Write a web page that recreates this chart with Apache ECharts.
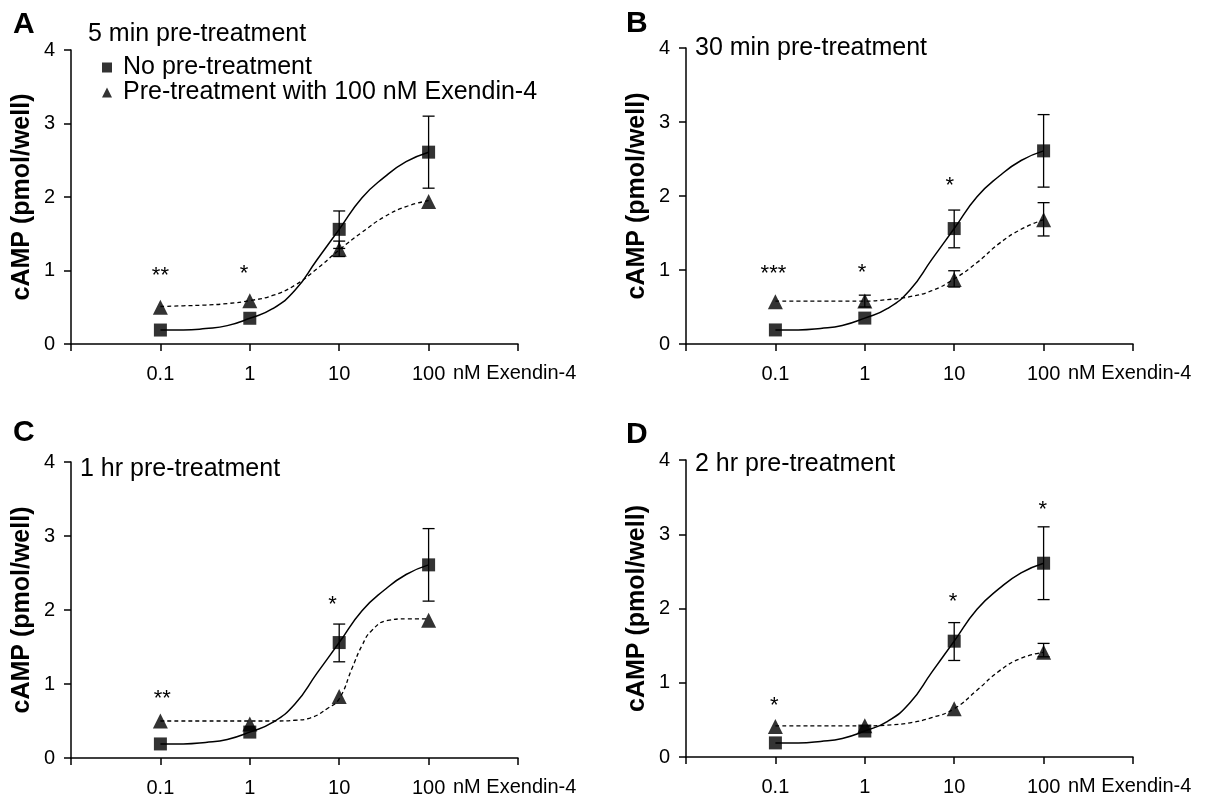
<!DOCTYPE html>
<html>
<head>
<meta charset="utf-8">
<script src="https://cdn.jsdelivr.net/npm/echarts@6/dist/echarts.min.js"></script>
<style>
html, body { margin: 0; background: #fff; }
#chart { width: 1208px; height: 798px; }
</style>
</head>
<body>
<div id="chart"></div>
<script>
// doses, nM Exendin-4
var doses = [0.1, 1, 10, 100];
var xTicks = ['0.1', '1', '10', '100'];

// no pre-treatment (same control set in all four panels), cAMP pmol/well
var ctrlMean = [0.19, 0.35, 1.56, 2.61];
var ctrlErr = [[10, 1.30, 1.81], [100, 2.12, 3.10]];

// fitted curves at quarter-decade doses
var fitDoses = [0.1, 0.18, 0.32, 0.56, 1, 1.8, 3.2, 5.6, 10, 18, 32, 56, 100];
var ctrlFit = [0.19, 0.19, 0.21, 0.25, 0.35, 0.48, 0.73, 1.14, 1.56, 1.99, 2.27, 2.48, 2.61];

// pre-treatment with 100 nM Exendin-4
var preMeanA = [0.50, 0.59, 1.29, 1.94];
var preMeanB = [0.57, 0.58, 0.87, 1.68];
var preMeanC = [0.50, 0.46, 0.83, 1.86];
var preMeanD = [0.41, 0.42, 0.65, 1.41];

var preErrA = [[10, 1.19, 1.40]];
var preErrB = [[1, 0.50, 0.66], [10, 0.77, 0.99], [100, 1.46, 1.91]];
var preErrC = [];
var preErrD = [[100, 1.35, 1.53]];

var preFitA = [0.51, 0.52, 0.53, 0.55, 0.59, 0.66, 0.8, 1.02, 1.28, 1.52, 1.73, 1.87, 1.95];
var preFitB = [0.58, 0.58, 0.58, 0.58, 0.58, 0.6, 0.64, 0.72, 0.88, 1.1, 1.36, 1.55, 1.68];
var preFitD = [0.42, 0.42, 0.42, 0.42, 0.42, 0.43, 0.46, 0.53, 0.65, 0.9, 1.16, 1.33, 1.41];
// panel C rises steeply, read at its own doses
var preFitDosesC = [0.1, 0.32, 1, 2, 3.2, 4.7, 7.6, 10, 14, 18, 23, 35, 56, 100];
var preFitC = [0.5, 0.5, 0.5, 0.5, 0.51, 0.54, 0.68, 0.8, 1.22, 1.52, 1.72, 1.86, 1.88, 1.88];

// significance marks [dose, cAMP level, text]
var starsA = [[0.1, 0.99, '**'], [0.86, 1.02, '*']];
var starsB = [[0.095, 1.02, '***'], [0.93, 1.03, '*'], [8.9, 2.2, '*']];
var starsC = [[0.105, 0.87, '**'], [8.4, 2.14, '*']];
var starsD = [[0.097, 0.76, '*'], [9.7, 2.15, '*'], [98, 3.4, '*']];

var letters = ['A', 'B', 'C', 'D'];
var panelTitles = ['5 min pre-treatment', '30 min pre-treatment', '1 hr pre-treatment', '2 hr pre-treatment'];
var yTitle = 'cAMP (pmol/well)';
var xUnit = 'nM Exendin-4';
var nameCtrl = 'No pre-treatment';
var namePre = 'Pre-treatment with 100 nM Exendin-4';

var FONT = '"Liberation Sans", Arial, sans-serif';

var panels = [
    {mean: preMeanA, err: preErrA, fx: fitDoses, fy: preFitA, stars: starsA},
    {mean: preMeanB, err: preErrB, fx: fitDoses, fy: preFitB, stars: starsB},
    {mean: preMeanC, err: preErrC, fx: preFitDosesC, fy: preFitC, stars: starsC},
    {mean: preMeanD, err: preErrD, fx: fitDoses, fy: preFitD, stars: starsD}
];

// layout of the 2x2 grid
var grids = [
    {left: 71, top: 50, width: 447, height: 294},
    {left: 686, top: 48, width: 447, height: 296},
    {left: 71, top: 462, width: 447, height: 296},
    {left: 686, top: 460, width: 447, height: 297}
].map(function (g) {
    g.containLabel = false;
    g.outerBoundsMode = 'none';
    return g;
});
var letterPos = [[13, 10], [626, 9], [13, 418], [626, 420]];
var titlePos = [[88, 22], [695, 36], [80, 457], [695, 452]];

function zip(xs, ys) {
    return xs.map(function (x, i) { return [x, ys[i]]; });
}

function renderErr(params, api) {
    var x = api.value(0);
    var lo = api.coord([x, api.value(1)]);
    var hi = api.coord([x, api.value(2)]);
    var w = 6;
    var st = {stroke: '#000', lineWidth: 1.3};
    return {
        type: 'group',
        children: [
            {type: 'line', shape: {x1: lo[0], y1: lo[1], x2: hi[0], y2: hi[1]}, style: st},
            {type: 'line', shape: {x1: lo[0] - w, y1: lo[1], x2: lo[0] + w, y2: lo[1]}, style: st},
            {type: 'line', shape: {x1: hi[0] - w, y1: hi[1], x2: hi[0] + w, y2: hi[1]}, style: st}
        ]
    };
}

function makeStarRender(list) {
    return function (params, api) {
        var p = api.coord([api.value(0), api.value(1)]);
        return {
            type: 'text',
            x: p[0],
            y: p[1] + 5,
            style: {
                text: list[params.dataIndex][2],
                fill: '#000',
                font: '22px ' + FONT,
                align: 'center',
                verticalAlign: 'middle'
            }
        };
    };
}

var xAxes = [], yAxes = [], series = [], titles = [];

panels.forEach(function (pn, i) {
    xAxes.push({
        gridIndex: i,
        type: 'log',
        logBase: 10,
        min: 0.01,
        max: 1000,
        splitNumber: 5,
        name: xUnit,
        nameLocation: 'end',
        nameGap: -65,
        nameTextStyle: {color: '#000', fontSize: 20, fontFamily: FONT, align: 'left', verticalAlign: 'top', lineHeight: 58},
        axisLine: {lineStyle: {color: '#000', width: 1.5}},
        axisTick: {length: 7, lineStyle: {color: '#000', width: 1.5}},
        splitLine: {show: false},
        axisLabel: {
            color: '#000', fontSize: 20, fontFamily: FONT, margin: 20,
            formatter: function (v) {
                var s = +(+v).toPrecision(3);
                var k = doses.indexOf(s);
                return k >= 0 ? xTicks[k] : '';
            }
        }
    });
    yAxes.push({
        gridIndex: i,
        type: 'value',
        min: 0,
        max: 4,
        interval: 1,
        name: yTitle,
        nameLocation: 'middle',
        nameRotate: 90,
        nameGap: 36,
        nameTextStyle: {color: '#000', fontSize: 25, fontWeight: 'bold', fontFamily: FONT},
        axisLine: {show: true, lineStyle: {color: '#000', width: 1.5}},
        axisTick: {show: true, length: 7, lineStyle: {color: '#000', width: 1.5}},
        splitLine: {show: false},
        axisLabel: {color: '#000', fontSize: 20, fontFamily: FONT, margin: 16}
    });

    titles.push({
        text: letters[i], left: letterPos[i][0], top: letterPos[i][1], padding: 0,
        textStyle: {fontSize: 30, fontWeight: 'bold', color: '#000', fontFamily: FONT}
    });
    titles.push({
        text: panelTitles[i], left: titlePos[i][0], top: titlePos[i][1], padding: 0,
        textStyle: {fontSize: 25, fontWeight: 'normal', color: '#000', fontFamily: FONT}
    });

    // fitted curves
    series.push({
        type: 'line', xAxisIndex: i, yAxisIndex: i,
        data: zip(fitDoses, ctrlFit),
        smooth: 0.5, showSymbol: false, silent: true,
        lineStyle: {color: '#000', width: 1.5}, z: 2
    });
    series.push({
        type: 'line', xAxisIndex: i, yAxisIndex: i,
        data: zip(pn.fx, pn.fy),
        smooth: 0.5, showSymbol: false, silent: true,
        lineStyle: {color: '#000', width: 1.3, type: [4, 3]}, z: 2
    });
    // error bars
    series.push({
        type: 'custom', xAxisIndex: i, yAxisIndex: i,
        data: ctrlErr, renderItem: renderErr, encode: {x: 0, y: [1, 2]}, z: 3
    });
    series.push({
        type: 'custom', xAxisIndex: i, yAxisIndex: i,
        data: pn.err, renderItem: renderErr, encode: {x: 0, y: [1, 2]}, z: 3
    });
    // points
    series.push({
        name: nameCtrl, type: 'scatter', xAxisIndex: i, yAxisIndex: i,
        data: zip(doses, ctrlMean), symbol: 'rect', symbolSize: 13,
        itemStyle: {color: '#000'}, z: 4
    });
    series.push({
        name: namePre, type: 'scatter', xAxisIndex: i, yAxisIndex: i,
        data: zip(doses, pn.mean), symbol: 'triangle', symbolSize: 15,
        itemStyle: {color: '#000'}, z: 4
    });
    // asterisks
    series.push({
        type: 'custom', xAxisIndex: i, yAxisIndex: i,
        data: pn.stars.map(function (s) { return [s[0], s[1]]; }),
        renderItem: makeStarRender(pn.stars), z: 5
    });
});

var chart = echarts.init(document.getElementById('chart'));
chart.setOption({
    animation: false,
    backgroundColor: '#fff',
    title: titles,
    legend: {
        orient: 'vertical', left: 97, top: 50,
        itemWidth: 10, itemHeight: 10, itemGap: 0,
        selectedMode: false,
        textStyle: {color: '#000', fontSize: 25, lineHeight: 25, fontFamily: FONT, padding: [0, 0, 0, 6]},
        data: [{name: nameCtrl, icon: 'rect'}, {name: namePre, icon: 'triangle'}]
    },
    grid: grids,
    xAxis: xAxes,
    yAxis: yAxes,
    series: series
});
</script>
</body>
</html>
